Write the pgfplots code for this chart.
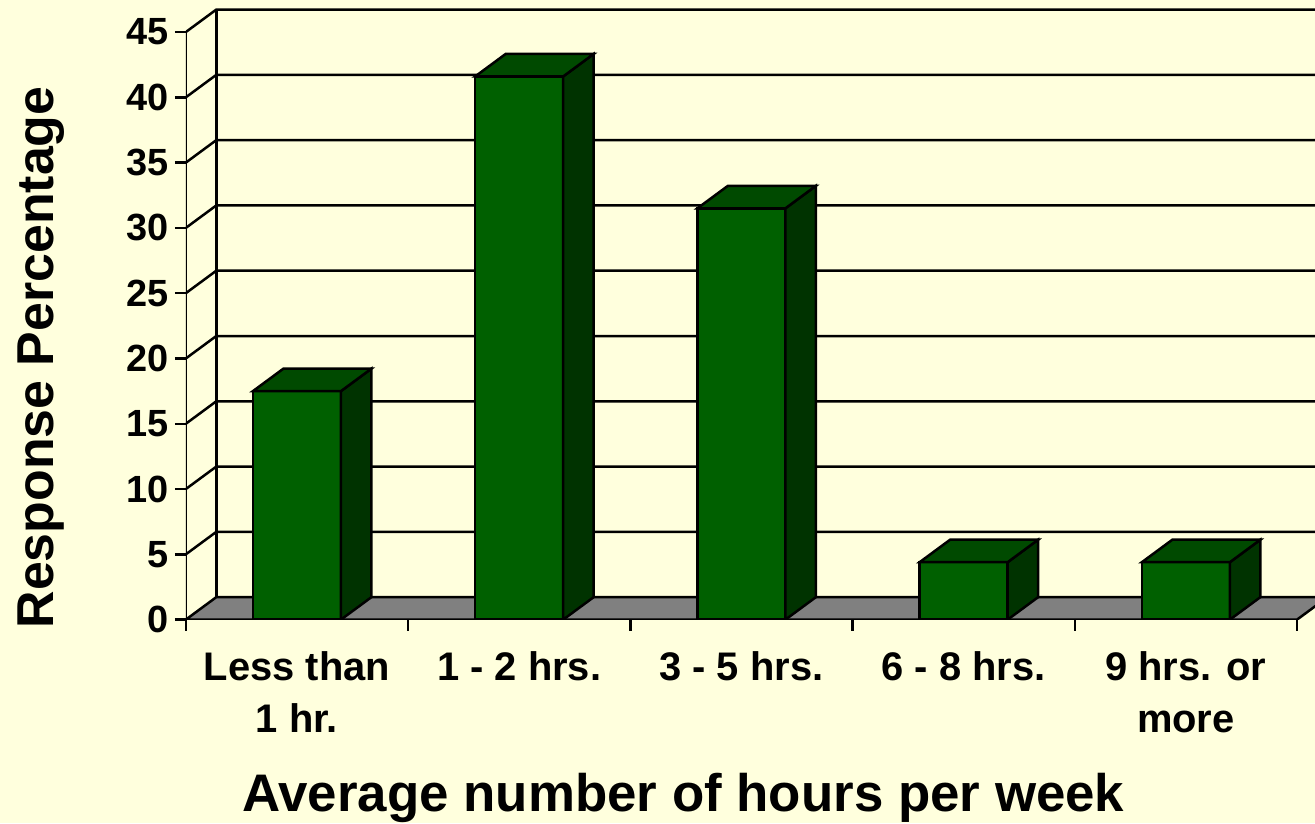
\documentclass[border=0pt]{standalone}
\usepackage{pgfplots}
\pgfplotsset{compat=1.18}
\usepackage{fontspec}
\setmainfont{Liberation Sans}
\usepackage{xcolor}
\definecolor{bg}{HTML}{FFFFDD}
\definecolor{barfront}{HTML}{006000}
\definecolor{bartop}{HTML}{004A00}
\definecolor{barside}{HTML}{003300}
\definecolor{floorgray}{HTML}{808080}
\pagecolor{bg}
\pgfplotstableread{
x  y
0  17.5
1  41.6
2  31.5
3  4.4
4  4.4
}\datatable
\begin{document}
\begin{tikzpicture}
\begin{axis}[
  scale only axis, width=1128bp, height=619bp,
  xmin=-0.5, xmax=4.581, ymin=0, ymax=47.455,
  axis lines=left,
  axis line style={draw=none},
  clip=true,
  tick style={black, line width=2.5bp},
  tick align=outside,
  major tick length=11bp,
  minor tick length=11bp,
  ytick={0,5,...,45},
  xtick={0,1,2,3,4},
  minor xtick={-0.5,0.5,1.5,2.5,3.5,4.5},
  every major x tick/.append style={draw=none},
  xticklabels={{Less than\\1 hr.},{1 - 2 hrs.},{3 - 5 hrs.},{6 - 8 hrs.},{9 hrs. or\\more}},
  /pgf/number format/assume math mode=true,
  yticklabel style={font=\fontsize{38}{44}\selectfont\bfseries, inner xsep=0pt, xshift=-6bp},
  xticklabel style={font=\fontsize{40}{52}\selectfont\bfseries, align=center, inner sep=0pt, anchor=north, yshift=-21bp},
  xlabel={Average number of hours per week},
  xlabel style={font=\fontsize{53}{60}\selectfont\bfseries, inner sep=0pt, at={(axis description cs:0.4406,-0.3102)}, anchor=base},
  ylabel={Response Percentage},
  ylabel style={font=\fontsize{52}{60}\selectfont\bfseries, inner xsep=0pt, inner ysep=18bp, at={(axis description cs:-0.117,0.4233)}, anchor=base},
]
% back wall gridlines with left-wall diagonals
\addplot[black, line width=2.5bp] coordinates {(-0.5,5)  (-0.363,6.72)  (4.7,6.72)};
\addplot[black, line width=2.5bp] coordinates {(-0.5,10) (-0.363,11.72) (4.7,11.72)};
\addplot[black, line width=2.5bp] coordinates {(-0.5,15) (-0.363,16.72) (4.7,16.72)};
\addplot[black, line width=2.5bp] coordinates {(-0.5,20) (-0.363,21.72) (4.7,21.72)};
\addplot[black, line width=2.5bp] coordinates {(-0.5,25) (-0.363,26.72) (4.7,26.72)};
\addplot[black, line width=2.5bp] coordinates {(-0.5,30) (-0.363,31.72) (4.7,31.72)};
\addplot[black, line width=2.5bp] coordinates {(-0.5,35) (-0.363,36.72) (4.7,36.72)};
\addplot[black, line width=2.5bp] coordinates {(-0.5,40) (-0.363,41.72) (4.7,41.72)};
\addplot[black, line width=2.5bp] coordinates {(-0.5,45) (-0.363,46.72) (4.7,46.72)};
% back wall left edge and front value axis
\addplot[black, line width=2.5bp] coordinates {(-0.363,1.72) (-0.363,46.72)};
\addplot[black, line width=2.5bp] coordinates {(-0.5,0) (-0.5,45)};
% floor
\addplot[fill=floorgray, draw=black, line width=2.5bp] coordinates {(-0.5,0) (4.5,0) (4.637,1.72) (-0.363,1.72)} -- cycle;
% bar front faces
\addplot[ybar, bar width=0.396, bar shift=0, fill=barfront, draw=black, line width=2.5bp] table[x=x,y=y] {\datatable};
% bar side faces
\addplot[fill=barside, draw=black, line width=2.5bp] coordinates {(0.198,0) (0.335,1.72) (0.335,19.22) (0.198,17.5)} -- cycle;
\addplot[fill=barside, draw=black, line width=2.5bp] coordinates {(1.198,0) (1.335,1.72) (1.335,43.32) (1.198,41.6)} -- cycle;
\addplot[fill=barside, draw=black, line width=2.5bp] coordinates {(2.198,0) (2.335,1.72) (2.335,33.22) (2.198,31.5)} -- cycle;
\addplot[fill=barside, draw=black, line width=2.5bp] coordinates {(3.198,0) (3.335,1.72) (3.335,6.12) (3.198,4.4)} -- cycle;
\addplot[fill=barside, draw=black, line width=2.5bp] coordinates {(4.198,0) (4.335,1.72) (4.335,6.12) (4.198,4.4)} -- cycle;
% bar top faces
\addplot[fill=bartop, draw=black, line width=2.5bp] coordinates {(-0.198,17.5) (0.198,17.5) (0.335,19.22) (-0.061,19.22)} -- cycle;
\addplot[fill=bartop, draw=black, line width=2.5bp] coordinates {(0.802,41.6) (1.198,41.6) (1.335,43.32) (0.939,43.32)} -- cycle;
\addplot[fill=bartop, draw=black, line width=2.5bp] coordinates {(1.802,31.5) (2.198,31.5) (2.335,33.22) (1.939,33.22)} -- cycle;
\addplot[fill=bartop, draw=black, line width=2.5bp] coordinates {(2.802,4.4) (3.198,4.4) (3.335,6.12) (2.939,6.12)} -- cycle;
\addplot[fill=bartop, draw=black, line width=2.5bp] coordinates {(3.802,4.4) (4.198,4.4) (4.335,6.12) (3.939,6.12)} -- cycle;
\end{axis}
\end{tikzpicture}
\end{document}
